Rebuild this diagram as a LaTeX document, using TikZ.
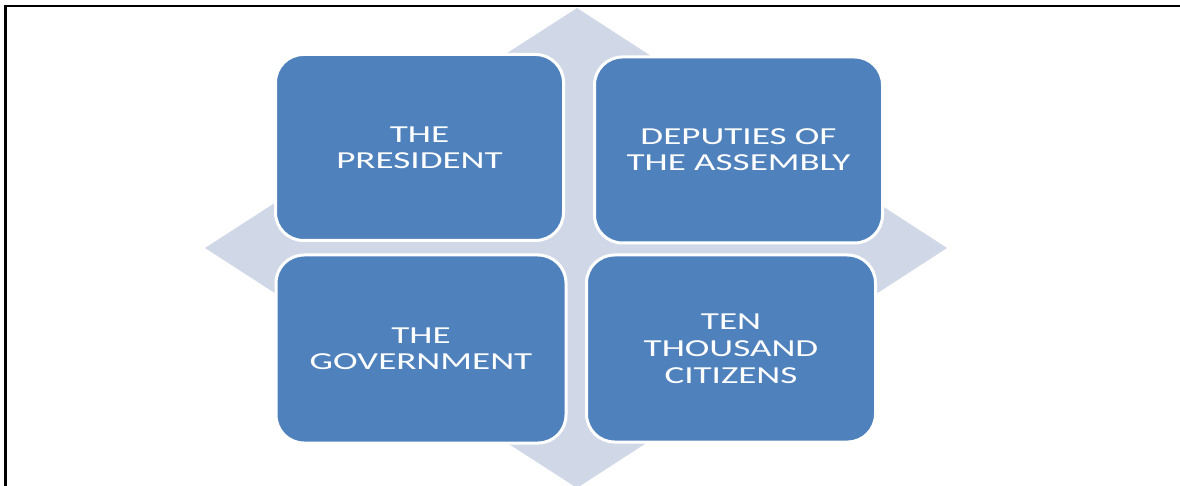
\documentclass[tikz,border=0pt]{standalone}
\usepackage{fontspec}
\setmainfont{Carlito}[FakeStretch=1.52]
\definecolor{boxblue}{RGB}{79,129,189}
\definecolor{diamondc}{RGB}{208,216,232}
\begin{document}
\begin{tikzpicture}[x=1pt,y=-1pt,
  cell/.style={rectangle, rounded corners=28pt, fill=boxblue, draw=white,
    line width=3pt, text=white, align=center, inner sep=0pt,
    font=\fontsize{24.4}{26}\selectfont},
  frameline/.style={line width=2.8pt, black}]
\useasboundingbox (0,0) rectangle (1180,486);
\fill[diamondc] (577,8) -- (947,248) -- (577,488) -- (205,248) -- cycle;
\node[cell, minimum width=288pt, minimum height=186pt] (pres) at (419.5,147.5) {THE\\PRESIDENT};
\node[cell, minimum width=288pt, minimum height=186pt] (dep) at (738.5,150) {DEPUTIES OF\\THE ASSEMBLY};
\node[cell, minimum width=290pt, minimum height=188pt] (gov) at (421,349) {THE\\GOVERNMENT};
\node[cell, minimum width=289pt, minimum height=187pt, font=\fontsize{24.4}{27}\selectfont] (ten) at (731,348.5) {TEN\\THOUSAND\\CITIZENS};
\draw[frameline] (5.7,486) -- (5.7,6) -- (1180,6);
\end{tikzpicture}
\end{document}
